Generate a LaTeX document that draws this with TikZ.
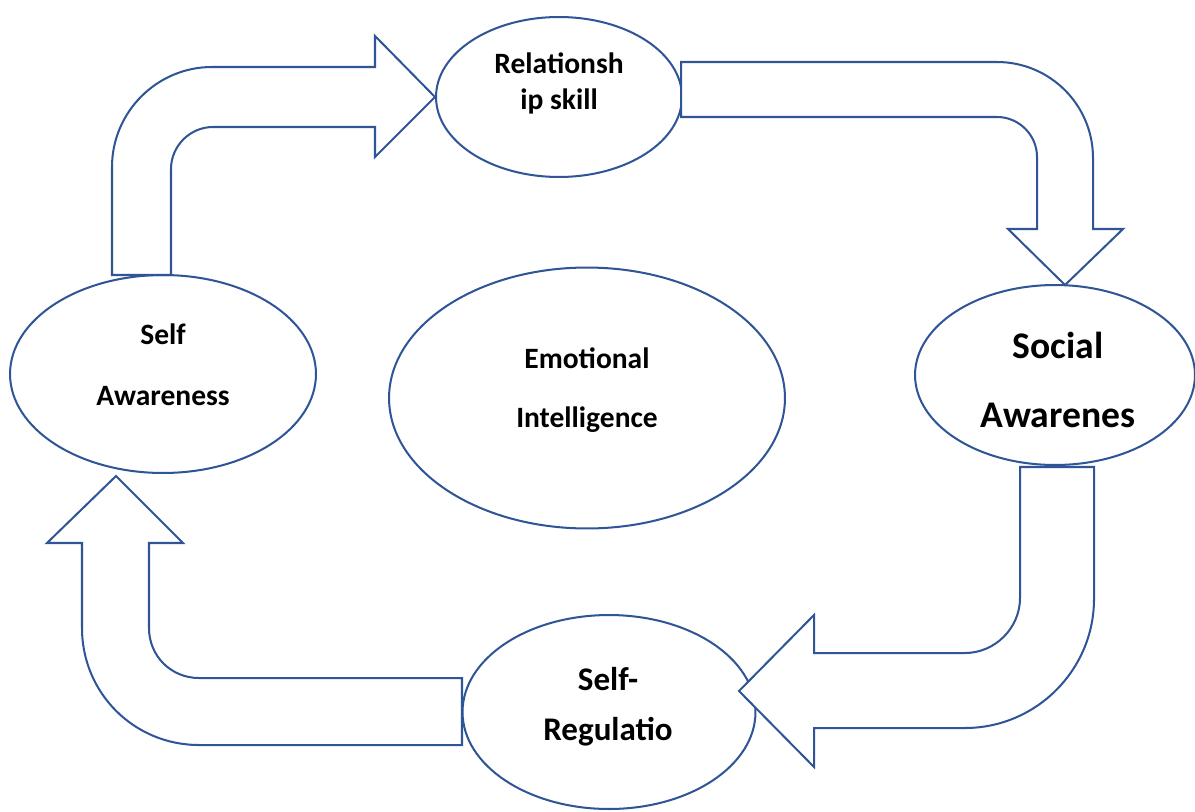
\documentclass[tikz,border=0pt]{standalone}
\usepackage{fontspec}
\setmainfont{Carlito}
\usetikzlibrary{shapes.geometric}
\definecolor{shapeblue}{HTML}{2F5597}

\begin{document}
\begin{tikzpicture}[x=0.02cm, y=-0.02cm,
  bubble/.style={ellipse, draw=shapeblue, line width=1.15pt, fill=white, inner sep=0pt},
  bigarrow/.style={draw=shapeblue, line width=1.15pt, fill=white, line join=miter},
  lbl/.style 2 args={font=\bfseries\fontsize{#1}{#2}\selectfont, align=center, anchor=base}
]
\useasboundingbox (0,0) rectangle (1195,811);

% ellipses
\node[bubble, minimum width=4.92cm, minimum height=3.2cm] (rel) at (559,97) {};
\node[bubble, minimum width=6.12cm, minimum height=3.96cm] (sa) at (163,374) {};
\node[bubble, minimum width=7.92cm, minimum height=5.22cm] (ei) at (587,398) {};
\node[bubble, minimum width=5.6cm, minimum height=3.6cm] (soc) at (1055,375) {};
\node[bubble, minimum width=5.86cm, minimum height=3.88cm] (sr) at (609,712) {};

% texts (base = last line)
\node[lbl={16.8}{21}] (rel-t) at (559,110) {Relationsh\\ip skill};
\node[lbl={16.8}{34.6}] (sa-t) at (163,405) {Self\\Awareness};
\node[lbl={16.8}{33.5}] (ei-t) at (587,427) {Emotional\\Intelligence};
\node[lbl={21.4}{39.1}] (soc-t) at (1058,427) {Social\\Awarenes};
\node[lbl={18.8}{28.3}] (sr-t) at (608,740) {Self-\\Regulatio};

% block arrows
\draw[bigarrow] (112,275) -- (112,167) .. controls (112,112) and (157,67) .. (212,67)
  -- (375,67) -- (375,36) -- (435,97) -- (375,157) -- (375,127) -- (213,127)
  .. controls (190,127) and (171,146) .. (171,169) -- (171,275) -- cycle;
\draw[bigarrow] (681,62) -- (997,62) .. controls (1050,62) and (1093,105) .. (1093,158)
  -- (1093,229) -- (1123,229) -- (1065,285) -- (1008,229) -- (1037,229) -- (1037,157)
  .. controls (1037,135) and (1019,117) .. (997,117) -- (681,117) -- cycle;
\draw[bigarrow] (1020,467) -- (1094,467) -- (1094,599) .. controls (1094,670) and (1036,728) .. (965,728)
  -- (814,728) -- (814,767) -- (739,691) -- (814,615) -- (814,653) -- (965,653)
  .. controls (995,653) and (1020,628) .. (1020,598) -- cycle;
\draw[bigarrow] (462,678) -- (199,678) .. controls (171,678) and (149,656) .. (149,628)
  -- (149,543) -- (183,543) -- (116,476) -- (47,543) -- (82,543) -- (82,628)
  .. controls (82,693) and (134,745) .. (199,745) -- (462,745) -- cycle;
\end{tikzpicture}
\end{document}
